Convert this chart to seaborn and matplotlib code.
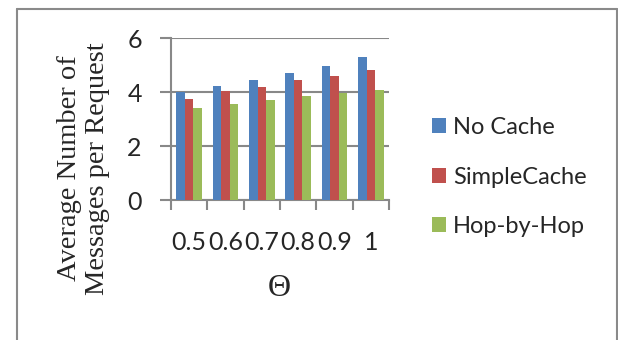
import numpy as np
import pandas as pd
import matplotlib
matplotlib.use("Agg")
import matplotlib.pyplot as plt
from matplotlib.lines import Line2D
import seaborn as sns

# Data
thetas = ["0.5", "0.6", "0.7", "0.8", "0.9", "1"]
series = ["No Cache", "SimpleCache", "Hop-by-Hop"]
no_cache = [4.00, 4.21, 4.43, 4.72, 4.98, 5.31]
simple_cache = [3.73, 4.02, 4.17, 4.43, 4.61, 4.83]
hop_by_hop = [3.40, 3.55, 3.69, 3.84, 3.95, 4.06]
colors = ["#4F81BD", "#C0504D", "#9BBB59"]

df = pd.DataFrame({
    "theta": thetas * 3,
    "series": np.repeat(series, len(thetas)),
    "value": no_cache + simple_cache + hop_by_hop,
})

sns.set_style("white")
plt.rcParams["font.family"] = ["Lato", "DejaVu Sans"]

W, H = 618, 340
fig = plt.figure(figsize=(W / 100, H / 100), dpi=100)
ax = fig.add_axes([171 / W, 1 - 200 / H, (389 - 171) / W, (200 - 38) / H])

sns.barplot(data=df, x="theta", y="value", hue="series", hue_order=series,
            order=thetas, palette=colors, width=0.7, gap=0, saturation=1,
            edgecolor="none", linewidth=0, ax=ax, errorbar=None, zorder=3)

grey = "#888888"
ax.set_xlim(-0.5, len(thetas) - 0.5)
ax.set_ylim(0, 6)
ax.set_yticks([0, 2, 4, 6])
ax.yaxis.grid(True, color=grey, linewidth=1.5, zorder=0)
ax.set_axisbelow(True)

# Category boundaries carry the tick marks, category centres carry the labels
ax.set_xticks(np.arange(-0.5, len(thetas), 1.0))
ax.set_xticklabels([])
ax.set_xticks(np.arange(len(thetas)), minor=True)
ax.set_xticklabels(thetas, minor=True)
ax.tick_params(axis="x", which="major", direction="out", length=7, width=1.5,
               color=grey, bottom=True)
ax.tick_params(axis="x", which="minor", length=0, pad=22, labelsize=18)
ax.tick_params(axis="y", direction="out", length=8, width=1.5, color=grey,
               left=True, pad=13, labelsize=18)

for side in ["top", "right"]:
    ax.spines[side].set_visible(False)
for side in ["left", "bottom"]:
    ax.spines[side].set_color(grey)
    ax.spines[side].set_linewidth(1.5)

ax.set_xlabel("")
ax.set_ylabel("")

fig.text(83.5 / W, 1 - 168.5 / H, "Average Number of\nMessages per Request",
         rotation=90, ha="center", va="center", multialignment="center",
         fontsize=20.5, family="Liberation Serif", linespacing=1.15)
fig.text(279 / W, 1 - 288 / H, "\u0398", ha="center", va="center",
         fontsize=23, family="Liberation Serif")

handles, labels = ax.get_legend_handles_labels()
ax.legend(handles, labels, loc="center left",
          bbox_to_anchor=(432 / W, 1 - 177 / H), bbox_transform=fig.transFigure,
          frameon=False, fontsize=17, handlelength=0.6, handleheight=0.6,
          handletextpad=0.3, labelspacing=1.22, borderpad=0, borderaxespad=0)

# Outer frame (left, top, right edges)
fc = "#8a8a8a"
fig.add_artist(Line2D([17 / W, 17 / W], [0, 1 - 9 / H], color=fc, lw=1.5,
                      transform=fig.transFigure))
fig.add_artist(Line2D([17 / W, 617 / W], [1 - 9 / H, 1 - 9 / H], color=fc, lw=1.5,
                      transform=fig.transFigure))
fig.add_artist(Line2D([617 / W, 617 / W], [0, 1 - 9 / H], color=fc, lw=1.5,
                      transform=fig.transFigure))

fig.savefig("out.png", dpi=100)
